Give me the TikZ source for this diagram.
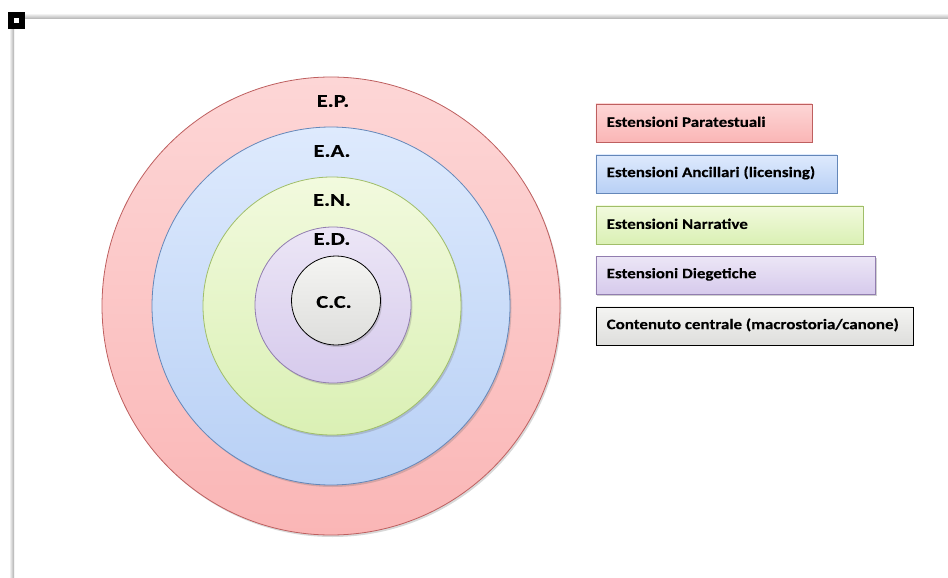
\documentclass[tikz,border=0pt]{standalone}
\usepackage{fontspec}
\setmainfont{Carlito}
\newfontfamily\ringfont[FakeStretch=1.25,FakeBold=0.4]{Carlito Bold}
\newfontfamily\legfont[FakeStretch=1.17,FakeBold=0.3]{Carlito Bold}
\usetikzlibrary{shadows}
\definecolor{redfillA}{RGB}{253,214,214}
\definecolor{redfillB}{RGB}{250,182,182}
\definecolor{reddraw}{RGB}{190,95,95}
\definecolor{bluefillA}{RGB}{222,234,253}
\definecolor{bluefillB}{RGB}{184,208,245}
\definecolor{bluedraw}{RGB}{100,135,185}
\definecolor{greenfillA}{RGB}{242,250,222}
\definecolor{greenfillB}{RGB}{218,240,180}
\definecolor{greendraw}{RGB}{160,190,105}
\definecolor{purpfillA}{RGB}{236,230,246}
\definecolor{purpfillB}{RGB}{214,202,236}
\definecolor{purpdraw}{RGB}{145,125,175}
\definecolor{grayfillA}{RGB}{244,244,242}
\definecolor{grayfillB}{RGB}{222,222,220}
\definecolor{framegray}{RGB}{175,175,175}
\tikzset{
  ring/.style={circle, inner sep=0pt, line width=0.8pt, drop shadow={shadow xshift=1.5pt, shadow yshift=-2pt, opacity=0.25, fill=black!60}},
  lbl/.style={font=\fontsize{18}{18}\ringfont, inner sep=0pt},
  legbox/.style={rectangle, anchor=north west, inner sep=0pt, line width=0.7pt, minimum height=38pt,
     drop shadow={shadow xshift=1.5pt, shadow yshift=-1.5pt, opacity=0.3, fill=black!60}},
  legtxt/.style={font=\fontsize{14.5}{14.5}\legfont, anchor=west, inner sep=0pt}
}
\begin{document}
\begin{tikzpicture}[x=1pt,y=-1pt]
\useasboundingbox (0,0) rectangle (948,578);
\fill[white] (0,0) rectangle (948,578);
% frame
\fill[top color=white, bottom color=framegray] (12,13) rectangle (948,19);
\fill[left color=white, right color=framegray] (9,19) rectangle (14,578);
\fill[black] (7.5,12.3) rectangle (25,29.3);
\fill[white] (14,18.3) rectangle (18.5,22.7);
% rings
\node[ring, minimum size=458pt, draw=reddraw, top color=redfillA, bottom color=redfillB] (ep) at (331,306) {};
\node[ring, minimum size=358pt, draw=bluedraw, top color=bluefillA, bottom color=bluefillB] (ea) at (331,306) {};
\node[ring, minimum size=258pt, draw=greendraw, top color=greenfillA, bottom color=greenfillB] (en) at (332,306) {};
\node[ring, minimum size=156pt, draw=purpdraw, top color=purpfillA, bottom color=purpfillB] (ed) at (333,305) {};
\node[ring, minimum size=89pt, draw=black, top color=grayfillA, bottom color=grayfillB] (cc) at (336,300.5) {};
% ring labels
\node[lbl] (lep) at (333,101) {E.P.};
\node[lbl] (lea) at (332,151) {E.A.};
\node[lbl] (len) at (332,200) {E.N.};
\node[lbl] (led) at (332,239) {E.D.};
\node[lbl] (lcc) at (334,302) {C.C.};
% legend
\node[legbox, minimum width=216pt, draw=reddraw, top color=redfillA, bottom color=redfillB] (b1) at (595.5,103.5) {};
\node[legtxt] (t1) at ([xshift=11pt,yshift=1pt]b1.west) {Estensioni Paratestuali};
\node[legbox, minimum width=241pt, draw=bluedraw, top color=bluefillA, bottom color=bluefillB] (b2) at (595.5,154.5) {};
\node[legtxt] (t2) at ([xshift=11pt,yshift=1pt]b2.west) {Estensioni Ancillari (licensing)};
\node[legbox, minimum width=267pt, draw=greendraw, top color=greenfillA, bottom color=greenfillB] (b3) at (595.5,205.5) {};
\node[legtxt] (t3) at ([xshift=11pt,yshift=1pt]b3.west) {Estensioni Narrative};
\node[legbox, minimum width=279.5pt, draw=purpdraw, top color=purpfillA, bottom color=purpfillB] (b4) at (595.5,256) {};
\node[legtxt] (t4) at ([xshift=11pt,yshift=1pt]b4.west) {Estensioni Diegetiche};
\node[legbox, minimum width=317pt, draw=black, top color=grayfillA, bottom color=grayfillB] (b5) at (595.5,306.5) {};
\node[legtxt] (t5) at ([xshift=11pt,yshift=1pt]b5.west) {Contenuto centrale (macrostoria/canone)};
\end{tikzpicture}
\end{document}
